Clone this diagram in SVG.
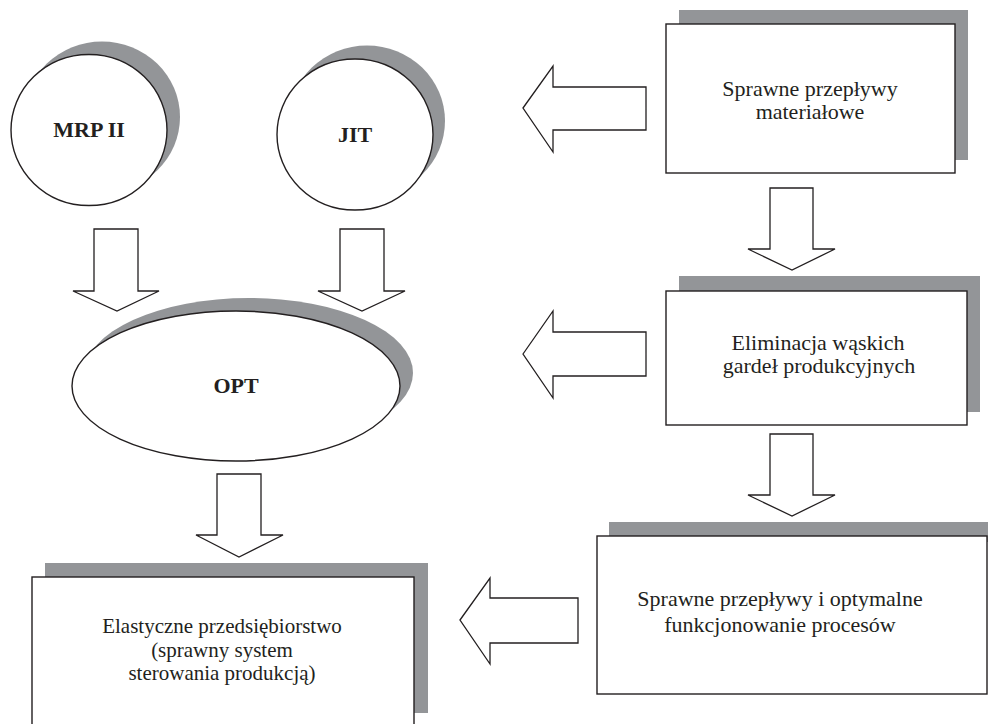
<svg xmlns="http://www.w3.org/2000/svg" width="988" height="724" viewBox="0 0 988 724">
<style>
.sh{fill:#939598;stroke:none}
.nd{fill:#fff;stroke:#231f20;stroke-width:1.4}
.ar{fill:#fff;stroke:#231f20;stroke-width:1.3;stroke-linejoin:miter}
.t{font-family:"Liberation Serif","Times New Roman",serif;font-size:22px;fill:#231f20;text-anchor:middle}
.s{font-size:21px}
.b{font-family:"Liberation Serif","Times New Roman",serif;font-size:22px;font-weight:bold;fill:#231f20;text-anchor:middle}
</style>
<rect width="988" height="724" fill="#fff"/>
<g id="mrp">
<ellipse class="sh" cx="102" cy="117" rx="78" ry="75.5"/>
<ellipse class="nd" cx="89" cy="130" rx="78" ry="75.5"/>
<text class="b" x="89" y="137">MRP II</text>
</g>
<g id="jit">
<ellipse class="sh" cx="367" cy="121" rx="78" ry="75.5"/>
<ellipse class="nd" cx="355" cy="134.5" rx="78" ry="75.5"/>
<text class="b" x="355" y="142">JIT</text>
</g>
<g id="opt">
<ellipse class="sh" cx="249" cy="373" rx="164" ry="75"/>
<ellipse class="nd" cx="236" cy="386" rx="164" ry="75"/>
<text class="b" x="236" y="393">OPT</text>
</g>
<g id="box1">
<rect class="sh" x="679" y="10" width="289" height="150"/>
<rect class="nd" x="666" y="24" width="289" height="149"/>
<text class="t" x="810" y="96">Sprawne przepływy</text>
<text class="t" x="810" y="119">materiałowe</text>
</g>
<g id="box2">
<rect class="sh" x="679" y="276" width="301" height="136"/>
<rect class="nd" x="666" y="291" width="301" height="134"/>
<text class="t" x="818" y="350">Eliminacja wąskich</text>
<text class="t" x="819" y="373">gardeł produkcyjnych</text>
</g>
<g id="box3">
<rect class="sh" x="609" y="522" width="379" height="20"/>
<rect class="nd" x="597" y="536" width="390" height="158"/>
<text class="t" x="780" y="606">Sprawne przepływy i optymalne</text>
<text class="t" x="780" y="632">funkcjonowanie procesów</text>
</g>
<g id="box4">
<rect class="sh" x="45" y="563" width="383" height="150"/>
<rect class="nd" x="32" y="577" width="382" height="160"/>
<text class="t s" x="222" y="633">Elastyczne przedsiębiorstwo</text>
<text class="t s" x="222" y="656.5">(sprawny system</text>
<text class="t s" x="222" y="680">sterowania produkcją)</text>
</g>
<g id="connectors">
<polygon class="ar" points="523,108 553,66 553,87 646,87 646,130 553,130 553,152"/>
<polygon class="ar" points="523,354 553,311 553,332 646,332 646,376 553,376 553,398"/>
<polygon class="ar" points="460,620 490,578 490,598 578,598 578,643 490,643 490,664"/>
<polygon class="ar" points="770,188 813,188 813,249 835,249 792,270 748,249 770,249"/>
<polygon class="ar" points="770,434 813,434 813,495 835,495 792,516 748,495 770,495"/>
<polygon class="ar" points="94,229 138,229 138,291 159,291 117,311 73,291 94,291"/>
<polygon class="ar" points="340,229 384,229 384,291 405,291 362,311 318,291 340,291"/>
<polygon class="ar" points="217,474 261,474 261,535 283,535 239,557 196,535 217,535"/>
</g>
</svg>
